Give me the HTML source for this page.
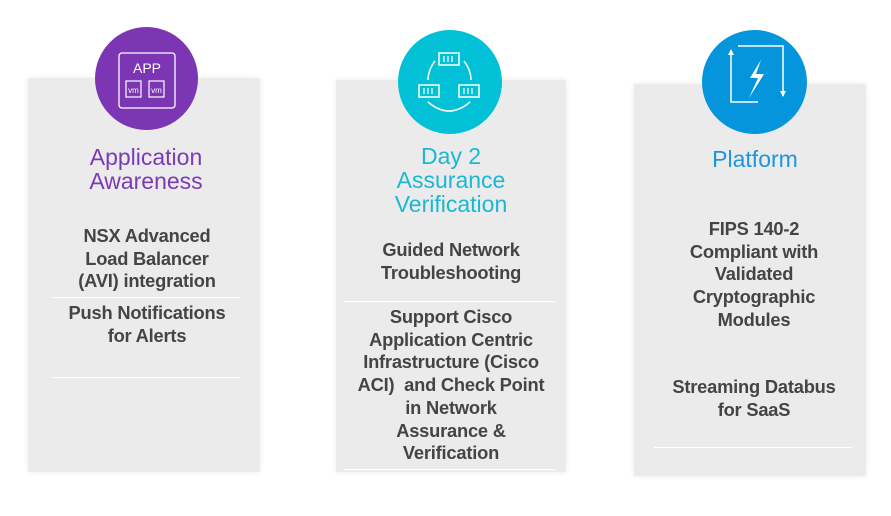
<!DOCTYPE html>
<html><head><meta charset="utf-8"><style>
body{margin:0;width:891px;height:516px;background:#fff;position:relative;overflow:hidden;font-family:"Liberation Sans",sans-serif}
.p{position:absolute;background:#ebebeb;box-shadow:0 0 6px rgba(0,0,0,0.08)}
.c{position:absolute;border-radius:50%}
.t{position:absolute;text-align:center;font-size:23px;line-height:24px}
.b{position:absolute;text-align:center;font-size:18.3px;line-height:22.7px;color:#444;font-weight:bold;letter-spacing:-0.2px}
.l{position:absolute;height:1px;background:#fff}
svg{position:absolute}
</style></head><body>
<div class="p" style="left:28px;top:78px;width:232px;height:394px"></div>
<div class="p" style="left:336px;top:80px;width:230px;height:392px"></div>
<div class="p" style="left:634px;top:84px;width:232px;height:392px"></div>

<div class="c" style="left:95px;top:27px;width:103px;height:103px;background:#7c35b3"></div>
<div class="c" style="left:398px;top:30px;width:104px;height:104px;background:#02c1d7"></div>
<div class="c" style="left:702px;top:30px;width:105px;height:104px;background:#0595dd"></div>

<svg style="left:95px;top:27px" width="103" height="103" viewBox="0 0 103 103">
<rect x="24" y="26" width="56" height="55" rx="3" fill="none" stroke="#fff" stroke-width="1.3"/>
<text x="52" y="46" fill="#fff" font-size="14" text-anchor="middle" font-family="Liberation Sans">APP</text>
<rect x="31" y="54" width="15" height="16" fill="none" stroke="#fff" stroke-width="1.2"/>
<rect x="54" y="54" width="15" height="16" fill="none" stroke="#fff" stroke-width="1.2"/>
<text x="38.5" y="66" fill="#fff" font-size="8" text-anchor="middle" font-family="Liberation Sans">vm</text>
<text x="61.5" y="66" fill="#fff" font-size="8" text-anchor="middle" font-family="Liberation Sans">vm</text>
</svg>

<svg style="left:398px;top:30px" width="104" height="104" viewBox="0 0 104 104">
<g fill="none" stroke="#fff" stroke-width="1.5">
<rect x="41" y="23" width="20" height="12"/><rect x="21" y="55" width="20" height="12"/><rect x="61" y="55" width="20" height="12"/>
<path d="M37 31 Q30 40 30 50"/><path d="M66 31 Q73 40 73 50"/><path d="M30 72 Q51 90 72 72"/>
</g>
<g stroke="#fff" stroke-width="1.2"><path d="M46 26v6M50 26v6M54 26v6M26 58v6M30 58v6M34 58v6M66 58v6M70 58v6M74 58v6"/></g>
</svg>

<svg style="left:702px;top:30px" width="105" height="104" viewBox="0 0 105 104">
<g fill="none" stroke="#fff" stroke-width="1.5">
<path d="M29 22v50h27"/><path d="M36 16h45v50"/>
</g>
<path d="M26 25l3-6 3 6z M78 61l3 6 3-6z" fill="#fff"/>
<path d="M59 30l-11 18h8l-9 20 15-24h-8z" fill="#fff"/>
</svg>

<div class="t" style="left:28px;width:236px;top:145px;color:#7b3bb5">Application<br>Awareness</div>
<div class="t" style="left:336px;width:230px;top:144px;color:#1ab8d3">Day 2<br>Assurance<br>Verification</div>
<div class="t" style="left:640px;width:230px;top:147px;color:#1f96da">Platform</div>

<div class="b" style="left:28px;width:238px;top:225px">NSX Advanced<br>Load Balancer<br>(AVI) integration</div>
<div class="l" style="left:52px;width:189px;top:297px"></div>
<div class="b" style="left:28px;width:238px;top:302px">Push Notifications<br>for Alerts</div>
<div class="l" style="left:52px;width:189px;top:377px"></div>

<div class="b" style="left:336px;width:230px;top:239px">Guided Network<br>Troubleshooting</div>
<div class="l" style="left:344px;width:211px;top:301px"></div>
<div class="b" style="left:336px;width:230px;top:306px">Support Cisco<br>Application Centric<br>Infrastructure (Cisco<br>ACI)&nbsp; and Check Point<br>in Network<br>Assurance &amp;<br>Verification</div>
<div class="l" style="left:344px;width:211px;top:469px"></div>

<div class="b" style="left:638px;width:232px;top:218px">FIPS 140-2<br>Compliant with<br>Validated<br>Cryptographic<br>Modules</div>
<div class="b" style="left:638px;width:232px;top:376px">Streaming Databus<br>for SaaS</div>
<div class="l" style="left:654px;width:198px;top:447px"></div>
</body></html>
